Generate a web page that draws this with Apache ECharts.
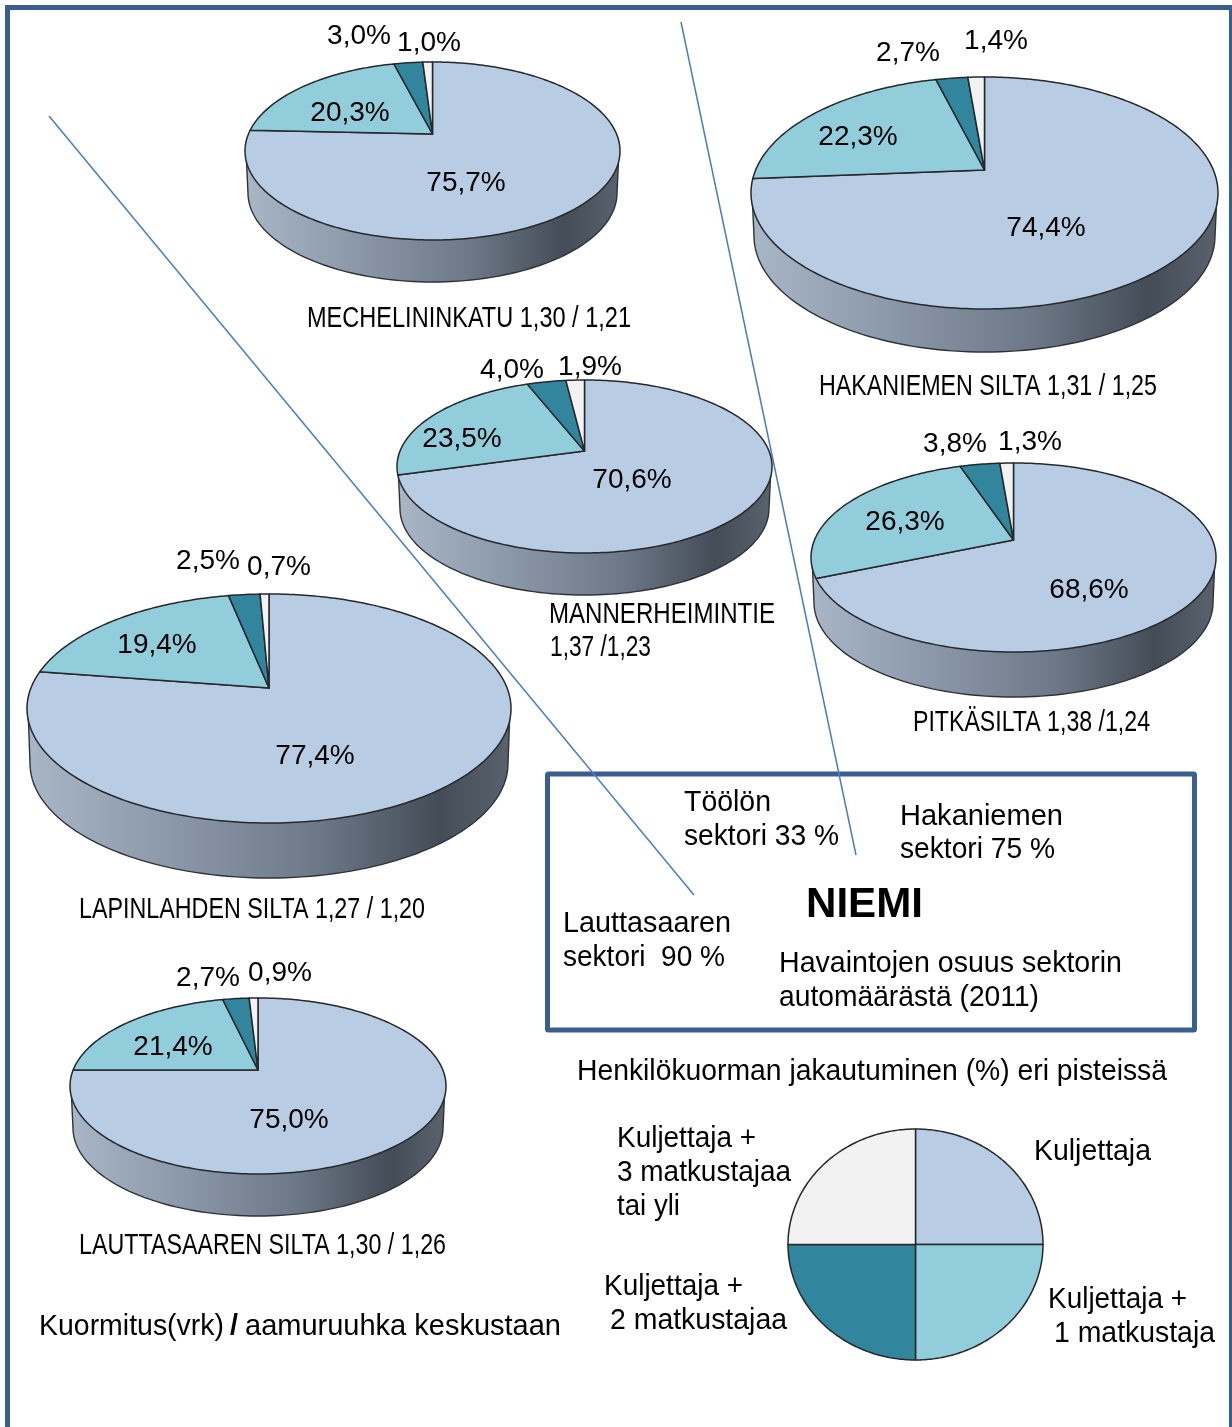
<!DOCTYPE html>
<html>
<head>
<meta charset="utf-8">
<title>Henkilökuorman jakautuminen</title>
<script src="https://cdn.jsdelivr.net/npm/echarts@6/dist/echarts.min.js"></script>
<style>html,body{margin:0;padding:0;background:#fff}#chart{width:1232px;height:1427px}</style>
</head>
<body>
<div id="chart"></div>
<script>
// ---- data: [Kuljettaja, +1, +2, +3 tai yli] ----
const mechelininkatu = [75.7, 20.3, 3.0, 1.0];
const hakaniemenSilta = [74.4, 22.3, 2.7, 1.4];
const mannerheimintie = [70.6, 23.5, 4.0, 1.9];
const pitkasilta = [68.6, 26.3, 3.8, 1.3];
const lapinlahdenSilta = [77.4, 19.4, 2.5, 0.7];
const lauttasaarenSilta = [75.0, 21.4, 2.7, 0.9];
const legendShares = [25, 25, 25, 25];
const legendNames = ['Kuljettaja', 'Kuljettaja + 1 matkustaja', 'Kuljettaja + 2 matkustajaa', 'Kuljettaja + 3 matkustajaa tai yli'];
const sliceColors = ['#b8cce4', '#92cddc', '#31859c', '#f2f2f2'];

// ---- layout ----
const pies = [
  {name: 'MECHELININKATU', values: mechelininkatu, left: 245, right: 620, top: 62, bottom: 240, apex: 134, depth: 42,
   labels: [[466,183],[350,113],[359,36],[429,43]]},
  {name: 'HAKANIEMEN SILTA', values: hakaniemenSilta, left: 751, right: 1218, top: 77, bottom: 309, apex: 170, depth: 43,
   labels: [[1046,228],[858,137],[908,53],[996,41]]},
  {name: 'MANNERHEIMINTIE', values: mannerheimintie, left: 397, right: 772, top: 380, bottom: 553, apex: 451, depth: 42,
   labels: [[632,480],[462,439],[512,370],[590,367]]},
  {name: 'PITKÄSILTA', values: pitkasilta, left: 811, right: 1216, top: 463, bottom: 652, apex: 540, depth: 45,
   labels: [[1089,590],[905,522],[955,444],[1030,442]]},
  {name: 'LAPINLAHDEN SILTA', values: lapinlahdenSilta, left: 27, right: 511, top: 594, bottom: 823, apex: 688, depth: 55,
   labels: [[315,756],[157,645],[208,561],[279,567]]},
  {name: 'LAUTTASAAREN SILTA', values: lauttasaarenSilta, left: 70, right: 446, top: 998, bottom: 1174, apex: 1070, depth: 42,
   labels: [[289,1120],[173,1047],[208,978],[280,973]]},
  {name: 'Selite', values: legendShares, names: legendNames, left: 788, right: 1043, top: 1129, bottom: 1360, apex: 1244.5, depth: 0, labels: null}
];

// [text, left, right, centreY, fontSize, weight]
const SANS = 'Liberation Sans';
const texts = [
  ['MECHELININKATU 1,30 / 1,21', 307, 631, 319, 29],
  ['HAKANIEMEN SILTA 1,31 / 1,25', 819, 1157, 387, 29],
  ['MANNERHEIMINTIE', 549, 775, 615, 29],
  ['1,37 /1,23', 550, 651, 648, 29],
  ['PITKÄSILTA 1,38 /1,24', 913, 1150, 723, 29],
  ['LAPINLAHDEN SILTA 1,27 / 1,20', 79, 425, 910, 29],
  ['LAUTTASAAREN SILTA 1,30 / 1,26', 79, 446, 1246, 29],
  ['Kuormitus(vrk)', 39, 224, 1327, 29],
  ['/', 230, 238, 1327, 29, 'bold'],
  ['aamuruuhka keskustaan', 245, 561, 1327, 29],
  ['Töölön', 684, 771, 803, 29],
  ['sektori 33 %', 684, 839, 837, 29],
  ['Hakaniemen', 900, 1063, 817, 29],
  ['sektori 75 %', 900, 1055, 850, 29],
  ['NIEMI', 806, 923, 905, 43, 'bold'],
  ['Lauttasaaren', 563, 731, 924, 29],
  ['sektori  90 %', 563, 725, 958, 29],
  ['Havaintojen osuus sektorin', 779, 1122, 964, 29],
  ['automäärästä (2011)', 779, 1039, 998, 29],
  ['Henkilökuorman jakautuminen (%) eri pisteissä', 577, 1167, 1072, 29],
  ['Kuljettaja +', 617, 756, 1139, 29],
  ['3 matkustajaa', 617, 791, 1173, 29],
  ['tai yli', 617, 680, 1207, 29],
  ['Kuljettaja', 1034, 1151, 1152, 29],
  ['Kuljettaja +', 604, 743, 1287, 29],
  ['2 matkustajaa', 610, 787, 1321, 29],
  ['Kuljettaja +', 1048, 1187, 1300, 29],
  ['1 matkustaja', 1054, 1215, 1334, 29]
];

const measureCtx = document.createElement('canvas').getContext('2d');
function textEl(t) {
  const weight = t[5] || 'normal';
  measureCtx.font = weight + ' ' + t[4] + 'px "' + SANS + '"';
  const natural = measureCtx.measureText(t[0]).width;
  return {
    type: 'text', x: t[1], y: t[3], scaleX: (t[2] - t[1]) / natural, z: 20,
    style: {text: t[0], fill: '#000', fontFamily: SANS, fontSize: t[4], fontWeight: weight,
            textAlign: 'left', textVerticalAlign: 'middle', verticalAlign: 'middle'}
  };
}

function makeRender(p) {
  const total = p.values.reduce((a, b) => a + b, 0);
  const cx = (p.left + p.right) / 2, rx = (p.right - p.left) / 2;
  const up = p.apex - p.top, down = p.bottom - p.apex;
  const k = (down - up) / (down + up);
  const A = up * (1 + k), B = rx * Math.sqrt(1 - k * k);
  const proj = pct => {
    const th = pct / 100 * 2 * Math.PI, u = Math.sin(th), v = Math.cos(th), w = 1 + k * v;
    return [cx + B * u / w, p.apex - A * v / w];
  };
  const midY = (p.top + p.bottom) / 2, ry = (p.bottom - p.top) / 2;
  const side = new echarts.graphic.LinearGradient(0, 0, 1, 0, [
    {offset: 0, color: '#a9b6c6'}, {offset: 0.3, color: '#8b98a9'}, {offset: 0.6, color: '#6d7988'},
    {offset: 0.85, color: '#444c57'}, {offset: 1, color: '#59626d'}
  ]);
  return function (params, api) {
    const i = params.dataIndex;
    const children = [];
    if (i === 0 && p.depth > 0) {
      const pts = [[cx + rx - 1, midY]];
      for (let d = 0; d <= 180; d += 2) {
        const a = d * Math.PI / 180;
        pts.push([cx + (rx - 3) * Math.cos(a), midY + p.depth + ry * Math.sin(a)]);
      }
      pts.push([cx - rx + 1, midY]);
      children.push({type: 'polygon', shape: {points: pts}, style: {fill: side, stroke: '#2f3338', lineWidth: 1.4, lineJoin: 'round'}});
    }
    let start = 0;
    for (let j = 0; j < i; j++) start += p.values[j] / total * 100;
    const span = api.value(0) / total * 100, steps = Math.max(2, Math.ceil(span * 3.6));
    const pts = [[cx, p.apex]];
    for (let s = 0; s <= steps; s++) pts.push(proj(start + span * s / steps));
    children.push({type: 'polygon', shape: {points: pts},
      style: {fill: sliceColors[i], stroke: '#26282b', lineWidth: 1.5, lineJoin: 'round'}});
    if (p.labels) {
      children.push({type: 'text', x: p.labels[i][0], y: p.labels[i][1], z2: 10, style: {
        text: api.value(0).toFixed(1).replace('.', ',') + '%', fill: '#000',
        fontFamily: SANS, fontSize: 28, textAlign: 'center', verticalAlign: 'middle', textVerticalAlign: 'middle'}});
    }
    return {type: 'group', children};
  };
}

const chart = echarts.init(document.getElementById('chart'), null, {renderer: 'canvas'});
chart.setOption({
  backgroundColor: '#ffffff',
  animation: false,
  tooltip: {show: false},
  graphic: [
    {type: 'rect', shape: {x: 7.5, y: 7.5, width: 1224, height: 1500}, z: 1, style: {fill: 'none', stroke: '#3a5f8f', lineWidth: 5}},
    {type: 'rect', shape: {x: 547.5, y: 774, width: 647, height: 256, r: 1}, z: 1, style: {fill: 'none', stroke: '#3a5f8f', lineWidth: 5}},
    {type: 'line', shape: {x1: 49, y1: 116, x2: 694, y2: 895}, z: 1, style: {stroke: '#4a7ebb', lineWidth: 1.5}},
    {type: 'line', shape: {x1: 681, y1: 22, x2: 856, y2: 855}, z: 1, style: {stroke: '#4a7ebb', lineWidth: 1.5}}
  ].concat(texts.map(textEl)),
  series: pies.map(p => ({
    type: 'custom',
    name: p.name,
    coordinateSystem: 'none',
    silent: true,
    z: 5,
    renderItem: makeRender(p),
    encode: {value: 0},
    data: p.values.map((v, i) => ({value: [v], name: (p.names || legendNames)[i]}))
  }))
});
</script>
</body>
</html>
